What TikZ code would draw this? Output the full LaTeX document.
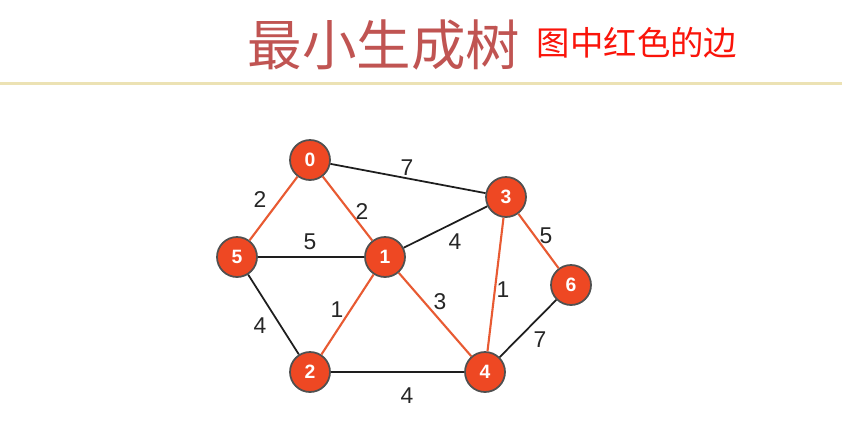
\documentclass[tikz,border=0pt]{standalone}
\usepackage{fontspec}
\setmainfont{Liberation Sans}
\newfontfamily\cjk{Noto Sans CJK SC}
\usepackage{xcolor}
\usepackage{tikz}
\definecolor{titlered}{RGB}{192,84,82}
\definecolor{subred}{RGB}{250,20,10}
\definecolor{rule}{RGB}{236,226,180}
\definecolor{vertexfill}{RGB}{238,72,35}
\definecolor{vertexrim}{RGB}{80,80,80}
\definecolor{treeedge}{RGB}{232,90,50}
\definecolor{plainedge}{RGB}{30,30,30}

\begin{document}
\begin{tikzpicture}[x=0.02cm,y=-0.02cm,
    vertex/.style={circle,fill=vertexfill,draw=vertexrim,line width=1pt,
      minimum size=0.8cm,inner sep=0pt,text=white,font=\bfseries\fontsize{11}{11}\selectfont},
    treeline/.style={treeedge,line width=1.2pt},
    plainline/.style={plainedge,line width=1pt},
    weight/.style={font=\fontsize{13}{13}\selectfont,text=black!85}]

    % Canvas
    \useasboundingbox (0,0) rectangle (842,427);
    \fill[white] (0,0) rectangle (842,427);

    % Title
    \node[titlered,font=\cjk\fontsize{31}{31}\selectfont] (title) at (384,45) {最小生成树};
    \node[subred,font=\cjk\fontsize{19}{19}\selectfont] (subtitle) at (637,43) {图中红色的边};
    \fill[rule] (0,82) rectangle (842,84.5);

    % Vertices
    \node[vertex] (v0) at (310,160) {0};
    \node[vertex] (v3) at (506,197) {3};
    \node[vertex] (v5) at (237,257) {5};
    \node[vertex] (v1) at (385,257) {1};
    \node[vertex] (v6) at (571,285) {6};
    \node[vertex] (v2) at (310,372) {2};
    \node[vertex] (v4) at (485,372) {4};

    % Edges outside the tree
    \draw[plainline] (v0) -- (v3);
    \draw[plainline] (v5) -- (v1);
    \draw[plainline] (v1) -- (v3);
    \draw[plainline] (v5) -- (v2);
    \draw[plainline] (v2) -- (v4);
    \draw[plainline] (v4) -- (v6);

    % Edges of the tree (red)
    \draw[treeline] (v0) -- (v5);
    \draw[treeline] (v0) -- (v1);
    \draw[treeline] (v1) -- (v2);
    \draw[treeline] (v1) -- (v4);
    \draw[treeline] (v3) -- (v4);
    \draw[treeline] (v3) -- (v6);

    % Weights
    \node[weight] (w03) at (407,168) {7};
    \node[weight] (w05) at (260,200) {2};
    \node[weight] (w01) at (362,212) {2};
    \node[weight] (w51) at (310,242) {5};
    \node[weight] (w13) at (455,242) {4};
    \node[weight] (w36) at (546,236) {5};
    \node[weight] (w34) at (503,290) {1};
    \node[weight] (w14) at (440,302) {3};
    \node[weight] (w12) at (337,310) {1};
    \node[weight] (w52) at (260,326) {4};
    \node[weight] (w46) at (540,340) {7};
    \node[weight] (w24) at (407,396) {4};

  \end{tikzpicture}
\end{document}
